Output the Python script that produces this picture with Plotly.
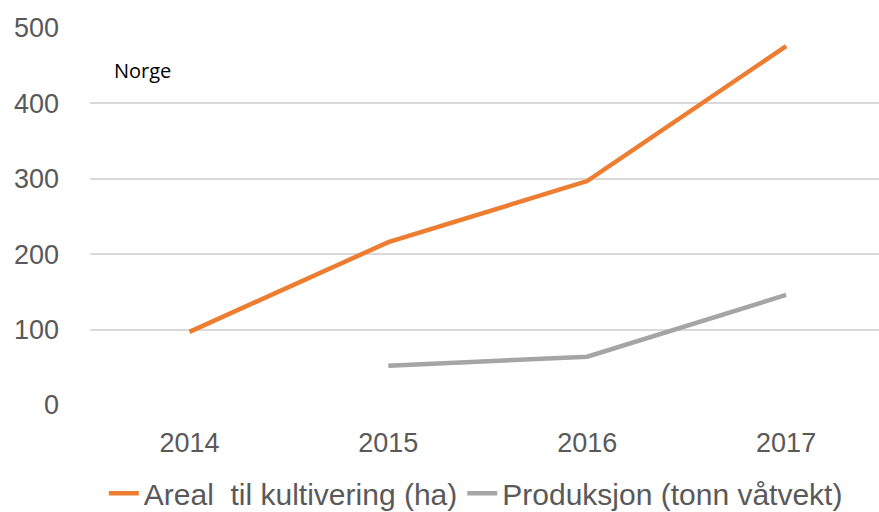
import plotly.graph_objects as go

years = ["2014", "2015", "2016", "2017"]
areal = [97, 216, 297, 476]
produksjon = [None, 52, 64, 146]
y_ticks = [0, 100, 200, 300, 400, 500]

fig = go.Figure()
fig.add_trace(go.Scatter(x=years, y=areal, mode="lines", name="Areal  til kultivering (ha)",
                         line=dict(color="#ED7D31", width=4.5)))
fig.add_trace(go.Scatter(x=years, y=produksjon, mode="lines", name="Produksjon (tonn våtvekt)",
                         line=dict(color="#A5A5A5", width=4.5), connectgaps=False))

fig.update_layout(
    width=879, height=512,
    margin=dict(l=90, r=0, t=28, b=107, autoexpand=False),
    paper_bgcolor="white", plot_bgcolor="white",
    font=dict(family="Liberation Sans, Arial, sans-serif", color="#595959"),
    xaxis=dict(type="category", range=[-0.5, 3.467], showgrid=False, showline=False,
               zeroline=False, tickfont=dict(size=27, color="#595959"), ticklabelstandoff=19,
               automargin=False),
    yaxis=dict(range=[0, 500], tickvals=y_ticks, showgrid=True, gridcolor="#D9D9D9", gridwidth=1.5,
               zeroline=False, showline=False, tickfont=dict(size=27, color="#595959"),
               ticklabelstandoff=30, automargin=False),
    legend=dict(orientation="h", x=0.489, xanchor="center", y=-0.165, yanchor="top",
                font=dict(size=30, color="#595959"), itemwidth=30, tracegroupgap=0),
    showlegend=True,
    annotations=[dict(text="Norge", x=(112 - 90) / 789, y=(405 - 70) / 377, xref="paper", yref="paper",
                      showarrow=False, xanchor="left", yanchor="middle",
                      font=dict(size=20, color="black", family="Open Sans, sans-serif"))],
)

fig.write_html("out.html", config={"displayModeBar": False},
               post_script="document.body.style.margin='0';document.body.style.overflow='hidden';")
